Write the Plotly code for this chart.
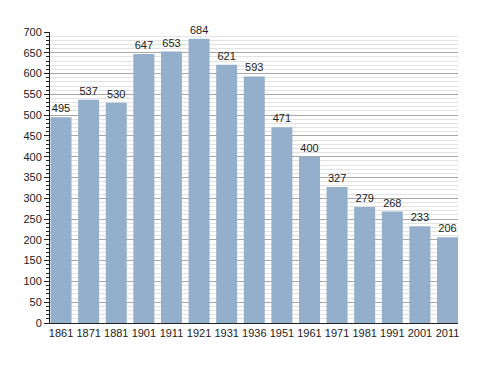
import plotly.graph_objects as go

years = ["1861","1871","1881","1901","1911","1921","1931","1936","1951","1961","1971","1981","1991","2001","2011"]
population = [495,537,530,647,653,684,621,593,471,400,327,279,268,233,206]
y_ticks = list(range(0, 701, 50))

fig = go.Figure(go.Bar(
    x=years, y=population, text=[str(v) for v in population],
    textposition="outside", cliponaxis=False,
    textfont=dict(size=11, color="#222"),
    marker=dict(color="#93afcc", line=dict(width=0)),
    width=0.76,
))
fig.update_layout(
    width=480, height=365,
    margin=dict(l=42, r=30, t=24, b=50, autoexpand=False),
    paper_bgcolor="white", plot_bgcolor="white",
    font=dict(family="Liberation Sans, Arial, sans-serif", size=11, color="#222"),
    showlegend=False,
)
fig.update_xaxes(type="category", range=[-0.4, 14.38], showline=True, linecolor="#222", linewidth=1,
                 ticks="", showgrid=False, tickfont=dict(size=11), automargin=False)
fig.update_yaxes(range=[0, 700], tickvals=y_ticks, showline=True, linecolor="#222", linewidth=1,
                 ticks="outside", ticklen=5, tickcolor="#222", automargin=False,
                 showgrid=True, gridcolor="#a8a8a8", gridwidth=1, zeroline=False,
                 minor=dict(dtick=10, showgrid=True, gridcolor="#e2e2e2", ticks="outside",
                            ticklen=3, tickcolor="#222"),
                 tickfont=dict(size=11))
fig.write_html("out.html")
